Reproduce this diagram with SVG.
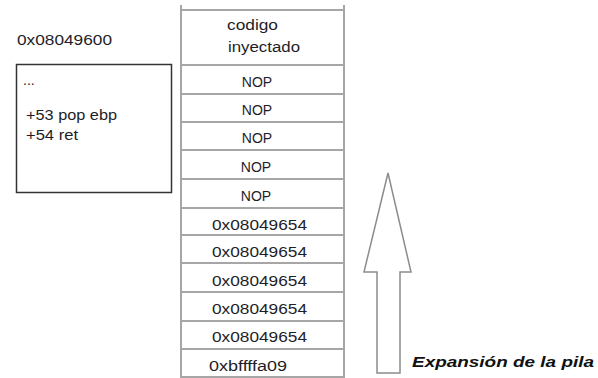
<svg xmlns="http://www.w3.org/2000/svg" width="598" height="378" viewBox="0 0 598 378">
<style>
.t{font-family:"Liberation Sans",Arial,sans-serif;font-size:14px;fill:#1e1e28}
.c{text-anchor:middle}
.hl{stroke:#a6a6a6;stroke-width:2;fill:none}
.vl{stroke:#a6a6a6;stroke-width:2;fill:none}
</style>
<rect width="598" height="378" fill="#ffffff"/>
<g id="address-label"><text class="t" x="17" y="45" textLength="95" lengthAdjust="spacingAndGlyphs">0x08049600</text></g>
<g id="code-box">
<rect x="16.5" y="64.5" width="155" height="128" fill="#ffffff" stroke="#333333" stroke-width="1.5"/>
<text class="t" x="23" y="85" font-size="12">...</text>
<text class="t" x="26" y="120" textLength="91" lengthAdjust="spacingAndGlyphs">+53 pop ebp</text>
<text class="t" x="26" y="140" textLength="52" lengthAdjust="spacingAndGlyphs">+54 ret</text>
</g>
<g id="stack">
<line class="vl" x1="181" y1="5" x2="181" y2="378"/>
<line class="vl" x1="344" y1="5" x2="344" y2="378"/>
<line class="hl" x1="181" y1="10" x2="344" y2="10"/>
<line class="hl" x1="181" y1="65" x2="344" y2="65"/>
<line class="hl" x1="181" y1="94" x2="344" y2="94"/>
<line class="hl" x1="181" y1="122" x2="344" y2="122"/>
<line class="hl" x1="181" y1="150" x2="344" y2="150"/>
<line class="hl" x1="181" y1="179" x2="344" y2="179"/>
<line class="hl" x1="181" y1="208" x2="344" y2="208"/>
<line class="hl" x1="181" y1="235" x2="344" y2="235"/>
<line class="hl" x1="181" y1="263" x2="344" y2="263"/>
<line class="hl" x1="181" y1="292" x2="344" y2="292"/>
<line class="hl" x1="181" y1="321" x2="344" y2="321"/>
<line class="hl" x1="181" y1="349" x2="344" y2="349"/>
<line class="hl" x1="181" y1="377" x2="344" y2="377"/>
</g>
<g id="cell-code"><text class="t" x="227" y="30" font-size="15" textLength="51" lengthAdjust="spacingAndGlyphs">codigo</text><text class="t" x="228" y="52" font-size="15" textLength="72" lengthAdjust="spacingAndGlyphs">inyectado</text></g>
<g id="cell-nop1"><text class="t c" x="257" y="87">NOP</text></g>
<g id="cell-nop2"><text class="t c" x="257" y="115">NOP</text></g>
<g id="cell-nop3"><text class="t c" x="257" y="143">NOP</text></g>
<g id="cell-nop4"><text class="t c" x="256" y="172">NOP</text></g>
<g id="cell-nop5"><text class="t c" x="256" y="201">NOP</text></g>
<g id="cell-ret1"><text class="t" x="212" y="230" textLength="95" lengthAdjust="spacingAndGlyphs">0x08049654</text></g>
<g id="cell-ret2"><text class="t" x="212" y="257" textLength="95" lengthAdjust="spacingAndGlyphs">0x08049654</text></g>
<g id="cell-ret3"><text class="t" x="212" y="286" textLength="95" lengthAdjust="spacingAndGlyphs">0x08049654</text></g>
<g id="cell-ret4"><text class="t" x="212" y="314" textLength="95" lengthAdjust="spacingAndGlyphs">0x08049654</text></g>
<g id="cell-ret5"><text class="t" x="212" y="342" textLength="95" lengthAdjust="spacingAndGlyphs">0x08049654</text></g>
<g id="cell-ebp"><text class="t" x="209" y="371" textLength="78" lengthAdjust="spacingAndGlyphs">0xbffffa09</text></g>
<g id="growth-arrow">
<polygon points="388,173 411,272 400,272 400,373 377,373 377,272 364,272" fill="#ffffff" stroke="#8c8c8c" stroke-width="1.5" stroke-linejoin="miter"/>
<text x="412" y="367" font-family="'Liberation Sans',Arial,sans-serif" font-size="15" font-weight="bold" font-style="italic" fill="#111111" textLength="182" lengthAdjust="spacingAndGlyphs">Expansión de la pila</text>
</g>
</svg>
